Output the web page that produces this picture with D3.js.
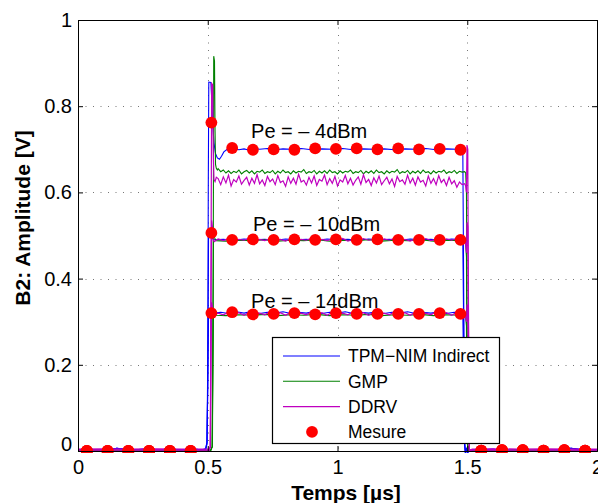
<!DOCTYPE html>
<html><head><meta charset="utf-8">
<script src="https://cdn.jsdelivr.net/npm/d3@7"></script>
<style>html,body{margin:0;padding:0;background:#fff;}svg{display:block;font-family:"Liberation Sans",Arial,sans-serif;}</style>
</head><body>
<svg id="chart" width="598" height="503"></svg>
<script>
// ---------- DATA ----------
const xTicks = [0, 0.5, 1, 1.5, 2];
const xTickLabels = ["0", "0.5", "1", "1.5", "2"];
const yTicks = [0, 0.2, 0.4, 0.6, 0.8, 1];
const yTickLabels = ["0", "0.2", "0.4", "0.6", "0.8", "1"];

const seriesNames = ["TPM\u2212NIM Indirect", "GMP", "DDRV", "Mesure"];
const seriesColors = ["#0000ff", "#008000", "#bf00bf", "#ff0000"];

// measurement sample times (µs)
const measT = [0.034,0.114,0.194,0.274,0.354,0.434,0.514,0.594,0.674,0.754,0.834,0.914,0.994,1.074,1.154,1.234,1.314,1.394,1.474,1.554,1.634,1.714,1.794,1.874,1.954];
const mes4  = [0,0,0,0,0,0,0.762,0.703,0.699,0.700,0.699,0.702,0.701,0.702,0.700,0.702,0.700,0.701,0.699,0.001,0.002,0.002,0.001,0.002,0.001];
const mes10 = [0,0,0,0,0,0,0.506,0.490,0.491,0.490,0.491,0.490,0.491,0.490,0.491,0.490,0.490,0.490,0.490,0.001,0.002,0.002,0.001,0.002,0.001];
const mes14 = [0,0,0,0,0,0,0.320,0.322,0.317,0.318,0.320,0.317,0.320,0.318,0.318,0.318,0.318,0.320,0.318,0.001,0.002,0.002,0.001,0.002,0.001];

// Pe annotations
const peTexts = ["Pe = \u2013 4dBm", "Pe = \u2013 10dBm", "Pe = \u2013 14dBm"];
const peT = [0.667, 0.674, 0.667];
const peV = [0.727, 0.511, 0.332];

// low-level segments (before / after pulse)
const lowPreBlue  = [[0,0.002],[0.05,0.004],[0.1,0.001],[0.15,0.006],[0.2,0.002],[0.25,0.004],[0.3,0.001],[0.35,0.005],[0.4,0.002],[0.45,0.004],[0.48,0.003]];
const lowPreGreen = [[0,0.001],[0.1,0.002],[0.2,0.001],[0.3,0.002],[0.4,0.001],[0.5,0.001]];
const lowPreMag4  = [[0,0.002],[0.1,0.003],[0.2,0.002],[0.3,0.003],[0.4,0.002],[0.5,0.002]];
const lowPreMag10 = [[0,0.0045],[0.1,0.005],[0.2,0.0045],[0.3,0.005],[0.4,0.0045],[0.5,0.0045]];
const lowPreMag14 = [[0,0.0],[0.1,0.0005],[0.2,0.0],[0.3,0.0005],[0.4,0.0],[0.5,0.0]];
const lowPostBlue  = [[1.52,0.002],[1.6,0.004],[1.65,0.001],[1.7,0.003],[1.75,0.001],[1.8,0.004],[1.85,0.002],[1.9,0.006],[1.95,0.002],[2,0.003]];
const lowPostGreen = [[1.52,0.001],[1.7,0.002],[1.85,0.001],[2,0.001]];
const lowPostMag4  = [[1.52,0.002],[1.6,0.003],[1.7,0.002],[1.8,0.003],[1.9,0.002],[2,0.002]];
const lowPostMag10 = [[1.52,0.0045],[1.6,0.005],[1.7,0.0045],[1.8,0.005],[1.9,0.0045],[2,0.0045]];
const lowPostMag14 = [[1.52,0.0],[1.6,0.0005],[1.7,0.0],[1.8,0.0005],[1.9,0.0],[2,0.0]];

// ---- Pe = -4 dBm ----
const tpm4Rise = [[0.492,0.006],[0.497,0.02],[0.500,0.15],[0.502,0.6],[0.504,0.856],[0.512,0.855],[0.515,0.82],[0.519,0.76],[0.524,0.715],[0.530,0.69],[0.537,0.68],[0.545,0.677],[0.553,0.684],[0.562,0.694],[0.575,0.700]];
const tpm4Plat = [[0.60,0.702],[0.62,0.699],[0.64,0.701],[0.66,0.698],[0.68,0.702],[0.70,0.700],[0.73,0.702],[0.76,0.699],[0.79,0.701],[0.82,0.700],[0.86,0.702],[0.90,0.699],[0.94,0.701],[0.98,0.700],[1.02,0.702],[1.06,0.699],[1.10,0.701],[1.14,0.700],[1.18,0.701],[1.22,0.699],[1.26,0.701],[1.30,0.700],[1.34,0.702],[1.38,0.699],[1.42,0.701],[1.46,0.700],[1.48,0.699]];
const tpm4Fall = [[1.483,0.69],[1.486,0.40],[1.489,0.03],[1.493,-0.006],[1.497,0.006],[1.501,-0.005],[1.506,0.004],[1.512,0.0]];

const tPlat4 = [0.54,0.55,0.56,0.57,0.58,0.59,0.60,0.61,0.62,0.63,0.64,0.65,0.66,0.67,0.68,0.69,0.70,0.71,0.72,0.73,0.74,0.75,0.76,0.77,0.78,0.79,0.80,0.81,0.82,0.83,0.84,0.85,0.86,0.87,0.88,0.89,0.90,0.91,0.92,0.93,0.94,0.95,0.96,0.97,0.98,0.99,1.00,1.01,1.02,1.03,1.04,1.05,1.06,1.07,1.08,1.09,1.10,1.11,1.12,1.13,1.14,1.15,1.16,1.17,1.18,1.19,1.20,1.21,1.22,1.23,1.24,1.25,1.26,1.27,1.28,1.29,1.30,1.31,1.32,1.33,1.34,1.35,1.36,1.37,1.38,1.39,1.40,1.41,1.42,1.43,1.44,1.45,1.46,1.47,1.48];
const gmp4Rise = [[0.51,0.001],[0.518,0.01],[0.521,0.4],[0.523,0.916],[0.526,0.905],[0.528,0.75],[0.530,0.665],[0.533,0.656],[0.537,0.652]];
const gmp4Noise = [0.655,0.648,0.652,0.645,0.650,0.644,0.649,0.646,0.652,0.643,
 0.648,0.651,0.645,0.650,0.643,0.649,0.647,0.652,0.644,0.648,
 0.646,0.651,0.643,0.649,0.645,0.652,0.646,0.648,0.643,0.650,
 0.645,0.649,0.647,0.653,0.644,0.648,0.646,0.651,0.643,0.649,
 0.645,0.650,0.644,0.652,0.646,0.648,0.643,0.650,0.645,0.649,
 0.647,0.652,0.644,0.648,0.646,0.651,0.643,0.649,0.645,0.650,
 0.644,0.652,0.646,0.648,0.643,0.650,0.645,0.649,0.647,0.653,
 0.644,0.648,0.646,0.651,0.643,0.649,0.645,0.650,0.644,0.652,
 0.646,0.648,0.643,0.650,0.645,0.649,0.647,0.652,0.644,0.648,
 0.646,0.651,0.644,0.649,0.647];
const gmp4Fall = [[1.490,0.648],[1.494,0.645],[1.497,0.60],[1.499,0.30],[1.502,0.01],[1.51,0.001]];

const ddrv4Rise = [[0.505,0.002],[0.510,0.01],[0.513,0.5],[0.515,0.853],[0.519,0.85],[0.521,0.70],[0.524,0.63],[0.528,0.625],[0.533,0.635]];
const ddrv4Noise = [0.632,0.618,0.636,0.622,0.640,0.615,0.630,0.624,0.638,0.619,
 0.628,0.635,0.617,0.633,0.621,0.641,0.620,0.629,0.616,0.637,
 0.625,0.631,0.618,0.639,0.623,0.627,0.614,0.636,0.621,0.633,
 0.619,0.642,0.624,0.628,0.617,0.635,0.622,0.638,0.616,0.630,
 0.626,0.640,0.618,0.632,0.621,0.637,0.615,0.629,0.624,0.639,
 0.620,0.633,0.617,0.628,0.636,0.619,0.641,0.623,0.630,0.616,
 0.634,0.622,0.638,0.618,0.627,0.635,0.620,0.631,0.614,0.637,
 0.625,0.629,0.619,0.640,0.622,0.633,0.617,0.636,0.624,0.628,
 0.615,0.638,0.621,0.632,0.618,0.639,0.623,0.630,0.616,0.635,
 0.620,0.627,0.612,0.624,0.618];
const ddrv4Fall = [[1.490,0.62],[1.494,0.615],[1.497,0.60],[1.499,0.71],[1.502,0.70],[1.505,0.30],[1.508,0.002]];

// ---- Pe = -10 dBm ----
const tpm10Rise = [[0.492,0.004],[0.497,0.02],[0.500,0.2],[0.503,0.49],[0.506,0.515],[0.510,0.505],[0.516,0.494],[0.525,0.49]];
const tpm10Plat = [[0.56,0.491],[0.60,0.489],[0.64,0.492],[0.68,0.490],[0.72,0.491],[0.76,0.489],[0.80,0.492],[0.84,0.490],[0.88,0.491],[0.92,0.489],[0.96,0.492],[1.00,0.490],[1.04,0.491],[1.08,0.489],[1.12,0.492],[1.16,0.490],[1.20,0.491],[1.24,0.489],[1.28,0.492],[1.32,0.490],[1.36,0.491],[1.40,0.489],[1.44,0.492],[1.48,0.490]];
const tpm10Fall = [[1.483,0.485],[1.486,0.30],[1.489,0.02],[1.493,-0.005],[1.497,0.005],[1.502,-0.004],[1.508,0.003],[1.514,0.0]];
const gmp10Rise = [[0.512,0.002],[0.517,0.01],[0.520,0.3],[0.522,0.505],[0.526,0.495],[0.532,0.488]];
const gmp10Plat = [[0.57,0.487],[0.62,0.489],[0.67,0.488],[0.72,0.490],[0.77,0.487],[0.82,0.489],[0.87,0.488],[0.92,0.490],[0.97,0.487],[1.02,0.489],[1.07,0.488],[1.12,0.490],[1.17,0.487],[1.22,0.489],[1.27,0.488],[1.32,0.490],[1.37,0.487],[1.42,0.489],[1.47,0.488]];
const gmp10Fall = [[1.493,0.489],[1.497,0.45],[1.500,0.02],[1.505,0.0]];
const ddrv10Rise = [[0.505,0.002],[0.510,0.01],[0.513,0.40],[0.515,0.535],[0.518,0.52],[0.521,0.49],[0.525,0.486]];
const ddrv10Plat = [[0.54,0.492],[0.56,0.488],[0.58,0.493],[0.60,0.487],[0.62,0.491],[0.64,0.489],[0.66,0.494],[0.68,0.487],[0.70,0.491],[0.72,0.488],[0.74,0.493],[0.76,0.489],[0.78,0.491],[0.80,0.487],[0.82,0.493],[0.84,0.488],[0.86,0.491],[0.88,0.489],[0.90,0.494],[0.92,0.487],[0.94,0.491],[0.96,0.488],[0.98,0.492],[1.00,0.489],[1.02,0.493],[1.04,0.487],[1.06,0.491],[1.08,0.488],[1.10,0.493],[1.12,0.489],[1.14,0.491],[1.16,0.487],[1.18,0.492],[1.20,0.489],[1.22,0.494],[1.24,0.488],[1.26,0.491],[1.28,0.487],[1.30,0.492],[1.32,0.489],[1.34,0.493],[1.36,0.488],[1.38,0.491],[1.40,0.487],[1.42,0.492],[1.44,0.489],[1.46,0.493],[1.48,0.488]];
const ddrv10Fall = [[1.490,0.487],[1.494,0.48],[1.497,0.46],[1.499,0.53],[1.502,0.52],[1.505,0.25],[1.508,0.002]];

// ---- Pe = -14 dBm ----
const tpm14Rise = [[0.492,0.004],[0.497,0.015],[0.500,0.15],[0.503,0.31],[0.506,0.332],[0.510,0.326],[0.516,0.321],[0.525,0.320]];
const tpm14Plat = [[0.55,0.322],[0.58,0.319],[0.61,0.323],[0.64,0.320],[0.67,0.324],[0.70,0.319],[0.73,0.322],[0.76,0.320],[0.79,0.323],[0.82,0.319],[0.85,0.322],[0.88,0.320],[0.91,0.324],[0.94,0.319],[0.97,0.322],[1.00,0.320],[1.03,0.323],[1.06,0.319],[1.09,0.322],[1.12,0.320],[1.15,0.323],[1.18,0.319],[1.21,0.322],[1.24,0.320],[1.27,0.323],[1.30,0.319],[1.33,0.322],[1.36,0.320],[1.39,0.323],[1.42,0.319],[1.45,0.322],[1.48,0.320]];
const tpm14Fall = [[1.483,0.315],[1.486,0.20],[1.489,0.02],[1.493,-0.004],[1.497,0.004],[1.502,-0.003],[1.508,0.002],[1.514,0.0]];
const gmp14Rise = [[0.512,0.002],[0.517,0.01],[0.520,0.2],[0.522,0.325],[0.526,0.318],[0.532,0.315]];
const gmp14Plat = [[0.57,0.314],[0.62,0.316],[0.67,0.315],[0.72,0.317],[0.77,0.314],[0.82,0.316],[0.87,0.315],[0.92,0.317],[0.97,0.314],[1.02,0.316],[1.07,0.315],[1.12,0.317],[1.17,0.314],[1.22,0.316],[1.27,0.315],[1.32,0.317],[1.37,0.314],[1.42,0.316],[1.47,0.315]];
const gmp14Fall = [[1.493,0.316],[1.497,0.29],[1.500,0.02],[1.505,0.0]];
const ddrv14Rise = [[0.505,0.002],[0.510,0.01],[0.513,0.25],[0.515,0.345],[0.518,0.335],[0.521,0.318],[0.525,0.316]];
const ddrv14Plat = [[0.54,0.320],[0.56,0.316],[0.58,0.322],[0.60,0.317],[0.62,0.321],[0.64,0.315],[0.66,0.322],[0.68,0.318],[0.70,0.320],[0.72,0.316],[0.74,0.323],[0.76,0.317],[0.78,0.321],[0.80,0.315],[0.82,0.322],[0.84,0.318],[0.86,0.320],[0.88,0.316],[0.90,0.323],[0.92,0.317],[0.94,0.321],[0.96,0.315],[0.98,0.322],[1.00,0.318],[1.02,0.320],[1.04,0.316],[1.06,0.323],[1.08,0.317],[1.10,0.321],[1.12,0.315],[1.14,0.322],[1.16,0.318],[1.18,0.320],[1.20,0.316],[1.22,0.323],[1.24,0.317],[1.26,0.321],[1.28,0.315],[1.30,0.322],[1.32,0.318],[1.34,0.320],[1.36,0.316],[1.38,0.323],[1.40,0.317],[1.42,0.321],[1.44,0.315],[1.46,0.322],[1.48,0.318]];
const ddrv14Fall = [[1.490,0.317],[1.494,0.31],[1.497,0.30],[1.499,0.34],[1.502,0.335],[1.505,0.15],[1.508,0.002]];

// ---------- BUILD ----------
const zip = (ts, vs) => ts.map((t, i) => [t, vs[i]]);
const blueCurves = [
  [...lowPreBlue, ...tpm4Rise, ...tpm4Plat, ...tpm4Fall, ...lowPostBlue],
  [...lowPreBlue, ...tpm10Rise, ...tpm10Plat, ...tpm10Fall, ...lowPostBlue],
  [...lowPreBlue, ...tpm14Rise, ...tpm14Plat, ...tpm14Fall, ...lowPostBlue]
];
const greenCurves = [
  [...lowPreGreen, ...gmp4Rise, ...zip(tPlat4, gmp4Noise), ...gmp4Fall, ...lowPostGreen],
  [...lowPreGreen, ...gmp10Rise, ...gmp10Plat, ...gmp10Fall, ...lowPostGreen],
  [...lowPreGreen, ...gmp14Rise, ...gmp14Plat, ...gmp14Fall, ...lowPostGreen]
];
const magCurves = [
  [...lowPreMag4, ...ddrv4Rise, ...zip(tPlat4, ddrv4Noise), ...ddrv4Fall, ...lowPostMag4],
  [...lowPreMag10, ...ddrv10Rise, ...ddrv10Plat, ...ddrv10Fall, ...lowPostMag10],
  [...lowPreMag14, ...ddrv14Rise, ...ddrv14Plat, ...ddrv14Fall, ...lowPostMag14]
];
const measPts = [mes4, mes10, mes14].flatMap(arr => zip(measT, arr));

// ---------- DRAW ----------
const svg = d3.select("#chart");
const L = 78, R = 597, T = 20, B = 451;
const x = d3.scaleLinear().domain([0, 2]).range([L, R]);
const y = d3.scaleLinear().domain([0, 1]).range([B, T]);

svg.append("defs").append("clipPath").attr("id", "clip")
  .append("rect").attr("x", L).attr("y", T - 1).attr("width", R - L).attr("height", B - T + 3);

// grid
const grid = svg.append("g").attr("stroke", "#777").attr("stroke-width", 1).attr("stroke-dasharray", "1,6.5");
grid.selectAll(".gx").data(xTicks.filter(d => d > 0 && d < 2)).join("line")
  .attr("x1", d => Math.round(x(d)) + 0.5).attr("x2", d => Math.round(x(d)) + 0.5)
  .attr("y1", T).attr("y2", B);
grid.selectAll(".gy").data(yTicks.filter(d => d > 0 && d < 1)).join("line")
  .attr("y1", d => Math.round(y(d)) + 0.5).attr("y2", d => Math.round(y(d)) + 0.5)
  .attr("x1", L).attr("x2", R);

const line = d3.line().x(d => x(d[0])).y(d => y(d[1]));
const plot = svg.append("g").attr("clip-path", "url(#clip)");
plot.selectAll(".blue").data(blueCurves).join("path")
  .attr("d", line).attr("fill", "none").attr("stroke", seriesColors[0]).attr("stroke-width", 1.1);
plot.selectAll(".green").data(greenCurves).join("path")
  .attr("d", line).attr("fill", "none").attr("stroke", seriesColors[1]).attr("stroke-width", 1.1);
plot.selectAll(".mag").data(magCurves).join("path")
  .attr("d", line).attr("fill", "none").attr("stroke", seriesColors[2]).attr("stroke-width", 1.2);

plot.selectAll(".dot").data(measPts).join("circle")
  .attr("cx", d => x(d[0])).attr("cy", d => y(d[1])).attr("r", 5.9)
  .attr("fill", seriesColors[3]);

// Pe labels
svg.selectAll(".pe").data(peTexts).join("text")
  .attr("x", (d, i) => x(peT[i])).attr("y", (d, i) => y(peV[i]))
  .attr("font-size", 20).attr("fill", "#000").text(d => d);

// axes box + ticks
svg.append("g").attr("transform", `translate(0,${B})`)
  .call(d3.axisBottom(x).tickValues(xTicks).tickFormat((d, i) => xTickLabels[i]).tickSize(-5).tickPadding(8.5));
const axL = svg.append("g").attr("transform", `translate(${L},0)`)
  .call(d3.axisLeft(y).tickValues(yTicks).tickFormat((d, i) => yTickLabels[i]).tickSize(-5).tickPadding(6));
svg.append("g").attr("transform", `translate(0,${T})`)
  .call(d3.axisTop(x).tickValues(xTicks).tickFormat("").tickSize(-5));
svg.append("g").attr("transform", `translate(${R},0)`)
  .call(d3.axisRight(y).tickValues(yTicks).tickFormat("").tickSize(-5));
svg.selectAll(".domain").attr("stroke", "#000").attr("stroke-width", 1);
svg.selectAll(".tick line").attr("stroke", "#000");
svg.selectAll(".tick text").attr("font-size", 20).attr("fill", "#000")
  .attr("font-family", "Liberation Sans, Arial, sans-serif");
axL.selectAll(".tick text").filter(d => d === 0).attr("dy", "-0.05em");

// axis titles
svg.append("text").attr("x", 346).attr("y", 500).attr("text-anchor", "middle")
  .attr("font-size", 21).attr("font-weight", "bold").text("Temps [\u00b5s]");
svg.append("text").attr("transform", "translate(30,218) rotate(-90)").attr("text-anchor", "middle")
  .attr("font-size", 21).attr("font-weight", "bold").text("B2: Amplitude [V]");

// legend
const lg = svg.append("g").attr("transform", "translate(272,337)");
lg.append("rect").attr("x", 0.5).attr("y", 0.5).attr("width", 227).attr("height", 106)
  .attr("fill", "#fff").attr("stroke", "#000").attr("stroke-width", 1.2);
const rows = lg.selectAll(".row").data(seriesNames).join("g")
  .attr("transform", (d, i) => `translate(0,${19 + i * 25.3})`);
rows.filter((d, i) => i < 3).append("line").attr("x1", 11).attr("x2", 68)
  .attr("stroke", (d, i) => seriesColors[i]).attr("stroke-width", 1.1);
rows.filter((d, i) => i === 3).append("circle").attr("cx", 40).attr("r", 5.9).attr("fill", seriesColors[3]);
rows.append("text").attr("x", 76).attr("dy", "0.36em").attr("font-size", 17.5).text(d => d);
</script>
</body></html>
